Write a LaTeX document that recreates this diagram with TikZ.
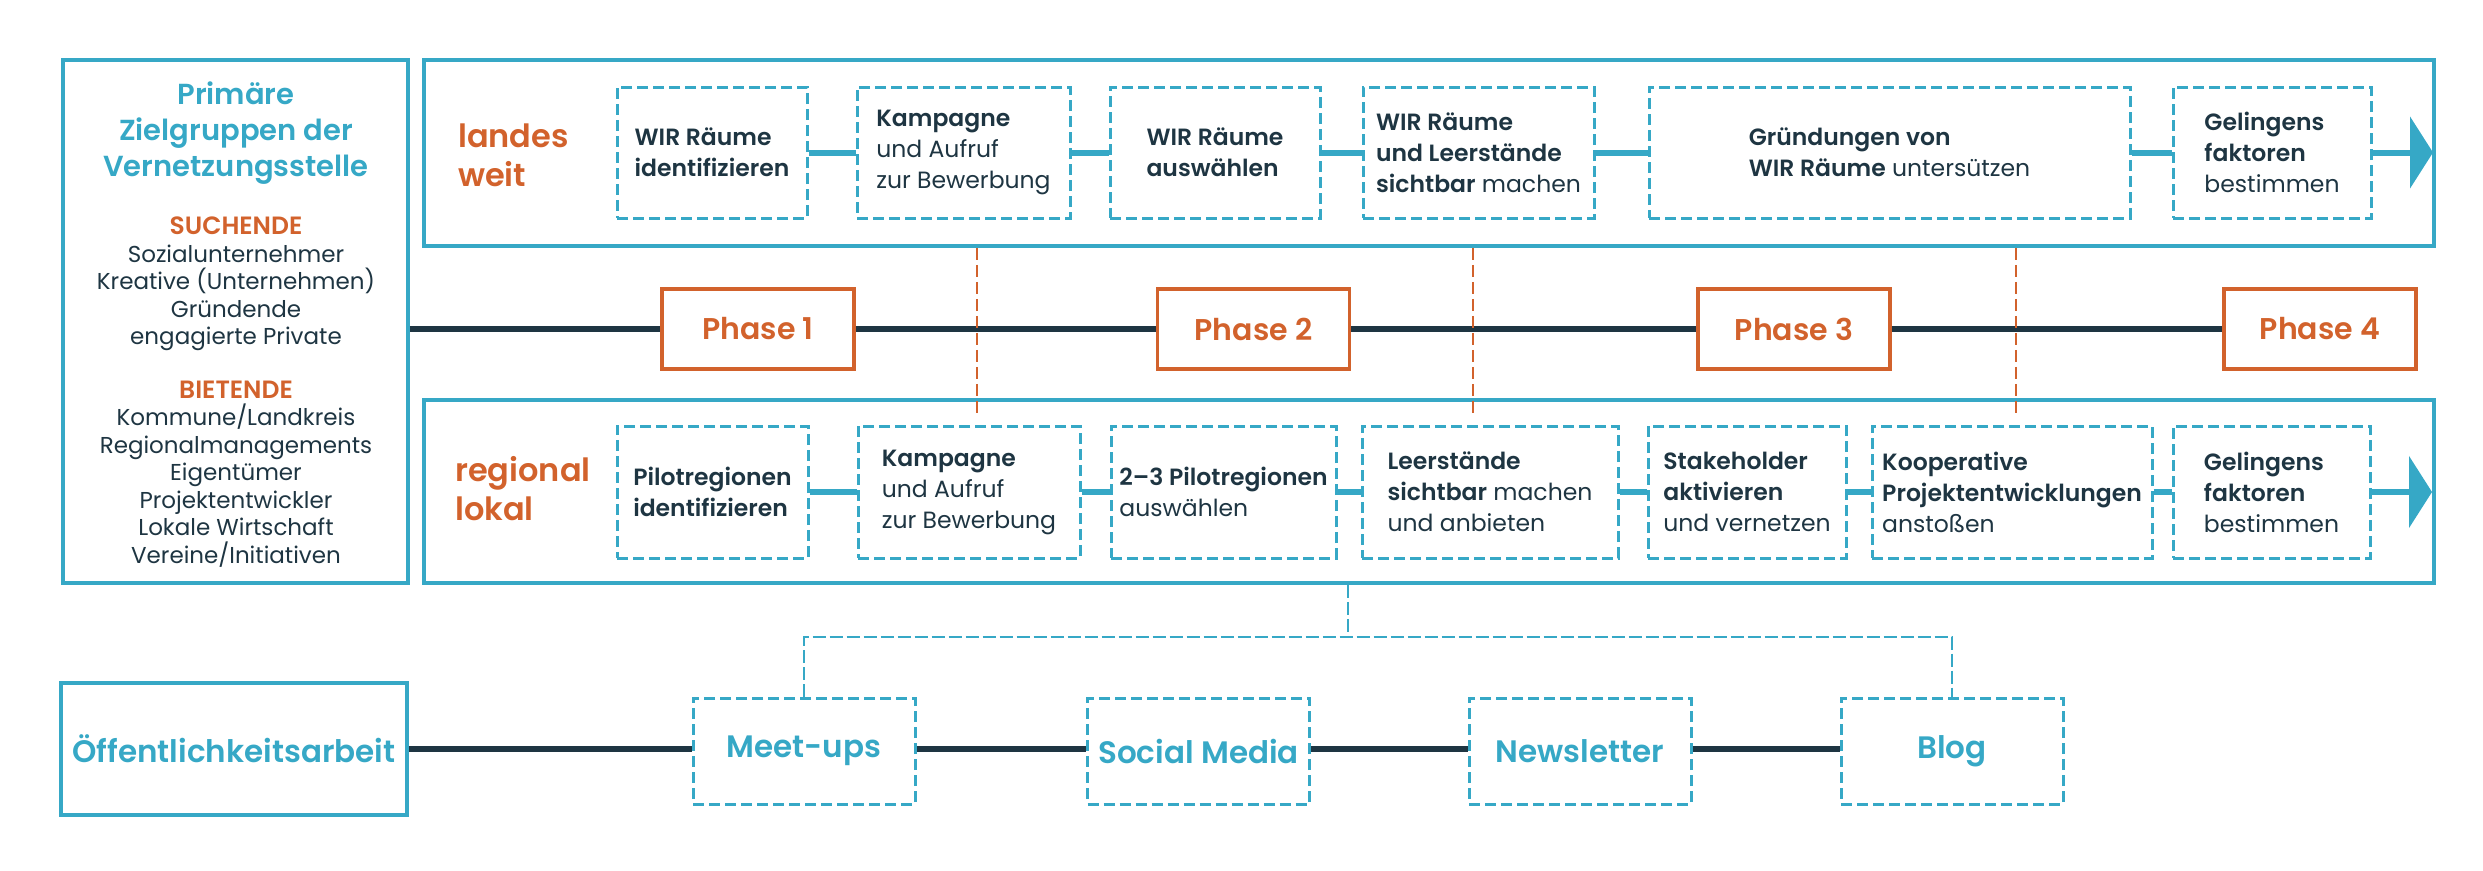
\documentclass[tikz,border=0pt]{standalone}
\usepackage{fontspec}
\setmainfont{Poppins}[BoldFont={Poppins SemiBold}]
\usetikzlibrary{arrows.meta}
\definecolor{wblue}{HTML}{36A8C6}
\definecolor{worange}{HTML}{D2622C}
\definecolor{wdark}{HTML}{1E3542}
\begin{document}
\begin{tikzpicture}[x=1pt,y=-1pt,
 frame/.style={draw=wblue,line width=3.5pt,inner sep=0pt},
 dbox/.style={draw=wblue,line width=3pt,dash pattern=on 11pt off 5pt,align=left,text=wdark,font=\fontsize{23.5}{31}\selectfont,inner sep=0pt,minimum height=131pt},
 conn/.style={draw=wblue,line width=6pt},
 phasebox/.style={draw=worange,line width=3.5pt,minimum width=192pt,minimum height=80pt,text=worange,font=\bfseries\fontsize{30}{36}\selectfont,inner sep=0pt},
 pline/.style={draw=wdark,line width=5.5pt},
 odash/.style={draw=worange,line width=2pt,dash pattern=on 12pt off 5pt},
 rowlabel/.style={anchor=west,align=left,text=worange,font=\bfseries\fontsize{32}{39}\selectfont,inner sep=0pt},
 cbox/.style={draw=wblue,line width=3pt,dash pattern=on 11pt off 5pt,minimum width=222pt,minimum height=106pt,text=wblue,font=\bfseries\fontsize{31}{36}\selectfont,inner sep=0pt},
 bdash/.style={draw=wblue,line width=2.7pt,dash pattern=on 13pt off 4pt},
 tipstyle/.style={-{Triangle[length=23pt,width=71pt]}},
]
\useasboundingbox (0,0) rectangle (2483,870);

% left box
\node[frame,minimum width=345pt,minimum height=523pt] (zg) at (235.5,321.5) {};
\node[align=center,text=wblue,font=\bfseries\fontsize{29}{36}\selectfont] (zgt) at (236,133) {Primäre\\Zielgruppen der\\Vernetzungsstelle};
\node[align=center,text=wdark,font=\fontsize{23}{27.5}\selectfont] (such) at (236,284) {{\color{worange}\bfseries\fontsize{25}{27.5}\selectfont SUCHENDE}\\Sozialunternehmer\\Kreative (Unternehmen)\\Gründende\\engagierte Private};
\node[align=center,text=wdark,font=\fontsize{23}{27.5}\selectfont] (biet) at (236,474) {{\color{worange}\bfseries\fontsize{25}{27.5}\selectfont BIETENDE}\\Kommune/Landkreis\\Regionalmanagements\\Eigentümer\\Projektentwickler\\Lokale Wirtschaft\\Vereine/Initiativen};

% top row
\node[frame,minimum width=2010pt,minimum height=186pt] (tb) at (1429,153) {};
\node[rowlabel] (tl) at (458,155) {landes\\weit};
\node[dbox,minimum width=190pt] (t1) at (712,152.5) {\textbf{WIR Räume}\\\textbf{identifizieren}};
\node[dbox,minimum width=213pt] (t2) at (963.5,152.5) {\textbf{Kampagne}\\und Aufruf\\zur Bewerbung};
\node[dbox,minimum width=210pt] (t3) at (1215,152.5) {\textbf{WIR Räume}\\\textbf{auswählen}};
\node[dbox,minimum width=231pt] (t4) at (1478.5,152.5) {\textbf{WIR Räume}\\\textbf{und Leerstände}\\\textbf{sichtbar} machen};
\node[dbox,minimum width=481pt] (t5) at (1889.5,152.5) {\textbf{Gründungen von}\\\textbf{WIR Räume} untersützen};
\node[dbox,minimum width=198pt] (t6) at (2272,152.5) {\textbf{Gelingens}\\\textbf{faktoren}\\bestimmen};
\coordinate (ttip) at (2433,152.5);
\draw[conn] (t1.east) -- (t2.west);
\draw[conn] (t2.east) -- (t3.west);
\draw[conn] (t3.east) -- (t4.west);
\draw[conn] (t4.east) -- (t5.west);
\draw[conn] (t5.east) -- (t6.west);
\draw[conn,tipstyle] (t6.east) -- (ttip);

% lower row
\node[frame,minimum width=2010pt,minimum height=183pt] (lb) at (1429,491.5) {};
\node[rowlabel] (ll) at (455,489) {regional\\lokal};
\node[dbox,minimum width=191pt,minimum height=132pt] (l1) at (712.5,492) {\textbf{Pilotregionen}\\\textbf{identifizieren}};
\node[dbox,minimum width=222pt,minimum height=132pt] (l2) at (969,492) {\textbf{Kampagne}\\und Aufruf\\zur Bewerbung};
\node[dbox,minimum width=225pt,minimum height=132pt] (l3) at (1223.5,492) {\textbf{2–3 Pilotregionen}\\auswählen};
\node[dbox,minimum width=256pt,minimum height=132pt] (l4) at (1490,492) {\textbf{Leerstände}\\\textbf{sichtbar} machen\\und anbieten};
\node[dbox,minimum width=198pt,minimum height=132pt] (l5) at (1747,492) {\textbf{Stakeholder}\\\textbf{aktivieren}\\und vernetzen};
\node[dbox,minimum width=280pt,minimum height=132pt] (l6) at (2012,492) {\textbf{Kooperative}\\\textbf{Projektentwicklungen}\\anstoßen};
\node[dbox,minimum width=197pt,minimum height=132pt] (l7) at (2271.5,492) {\textbf{Gelingens}\\\textbf{faktoren}\\bestimmen};
\coordinate (ltip) at (2432,492);
\draw[conn] (l1.east) -- (l2.west);
\draw[conn] (l2.east) -- (l3.west);
\draw[conn] (l3.east) -- (l4.west);
\draw[conn] (l4.east) -- (l5.west);
\draw[conn] (l5.east) -- (l6.west);
\draw[conn] (l6.east) -- (l7.west);
\draw[conn,tipstyle] (l7.east) -- (ltip);

% phases
\node[phasebox] (p1) at (758,329) {Phase 1};
\node[phasebox] (p2) at (1253.5,329) {Phase 2};
\node[phasebox] (p3) at (1794,329) {Phase 3};
\node[phasebox] (p4) at (2320,329) {Phase 4};
\draw[pline] (zg.east |- p1.west) -- (p1.west);
\draw[pline] (p1.east) -- (p2.west);
\draw[pline] (p2.east) -- (p3.west);
\draw[pline] (p3.east) -- (p4.west);

% orange dashed verticals
\coordinate (o1) at (977,417);
\coordinate (o2) at (1473,417);
\coordinate (o3) at (2016,417);
\draw[odash] (tb.south -| o1) -- (o1);
\draw[odash] (tb.south -| o2) -- (o2);
\draw[odash] (tb.south -| o3) -- (o3);

% communication row
\node[frame,minimum width=346pt,minimum height=132pt,text=wblue,font=\bfseries\fontsize{31}{36}\selectfont] (oe) at (234,749) {Öffentlichkeitsarbeit};
\node[cbox] (mu) at (804,751) {Meet-ups};
\node[cbox] (sm) at (1198.5,751) {Social Media};
\node[cbox] (nl) at (1580,751) {Newsletter};
\node[cbox] (bl) at (1952,751) {Blog};
\draw[pline] (oe.east) -- (oe.east -| mu.west);
\draw[pline] (mu.east |- oe.east) -- (sm.west |- oe.east);
\draw[pline] (sm.east |- oe.east) -- (nl.west |- oe.east);
\draw[pline] (nl.east |- oe.east) -- (bl.west |- oe.east);
\coordinate (br) at (1348,637);
\draw[bdash] (lb.south -| br) -- (br);
\draw[bdash] (mu.north) |- (br) -| (bl.north);
\end{tikzpicture}
\end{document}
